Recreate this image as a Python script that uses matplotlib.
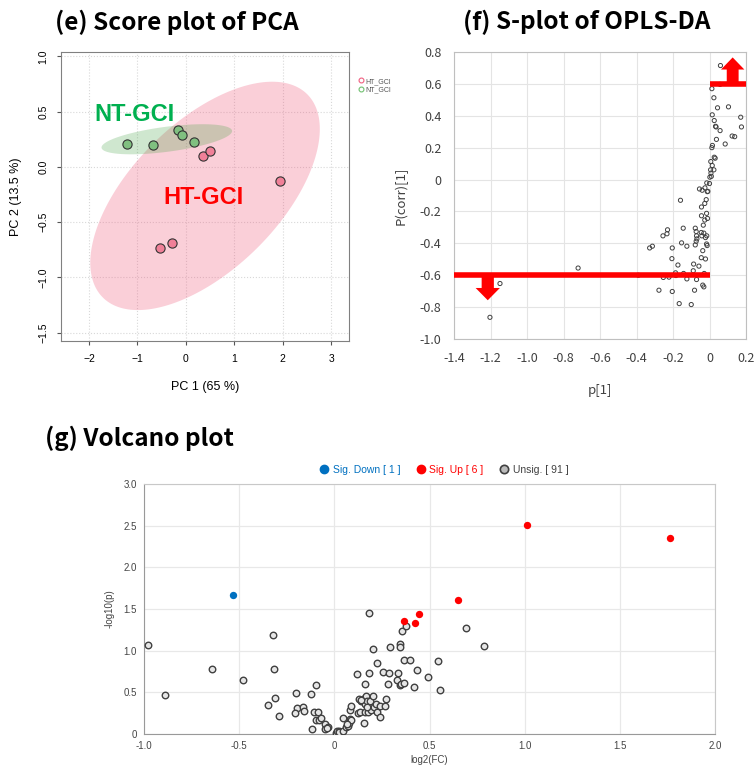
import numpy as np
import matplotlib
matplotlib.use("Agg")
import matplotlib.pyplot as plt
from matplotlib.ticker import FuncFormatter
from matplotlib.lines import Line2D

plt.rcParams['font.family'] = ['Liberation Sans', 'DejaVu Sans']
JP = ['Noto Sans CJK JP', 'DejaVu Sans']

# ---- (e) PCA scores ----
ht_pc1 = [0.36, 0.49, 1.95, -0.53, -0.29]
ht_pc2 = [0.096, 0.144, -0.13, -0.73, -0.69]
nt_pc1 = [-1.21, -0.68, -0.17, -0.08, 0.17]
nt_pc2 = [0.207, 0.20, 0.33, 0.285, 0.23]

# ---- (f) S-plot: p[1] and p(corr)[1] ----
s_p = [0.06, 0.058, 0.013, 0.024, 0.104, 0.044, 0.015, 0.171, 0.026, 0.033, 0.036, 0.058,
       0.175, 0.124, 0.138, 0.038, 0.086, 0.016, 0.013, 0.031, 0.026, 0.007, 0.015, 0.006,
       0.024, 0.008, 0.002, 0.01,
       -0.015, 0.0, -0.055, -0.04, -0.025, -0.009, -0.012, -0.159, -0.018, -0.026, -0.044,
       -0.016, -0.044, -0.011, -0.026, -0.034, -0.144, -0.078, -0.23, -0.233, -0.255, -0.073,
       -0.045, -0.031, -0.015, -0.071, -0.069, -0.042, -0.022, -0.073, -0.153, -0.313, -0.328,
       -0.124, -0.078, -0.016, -0.013, -0.204, -0.037, -0.206, -0.045, -0.022, -0.173, -0.087,
       -0.058, -0.39, -0.253, -0.222, -0.186, -0.184, -0.142, -0.089, -0.029, -0.124, -0.071,
       -0.037, -0.031, -0.277, -0.204, -0.082, -0.166, -0.1, -0.72, -1.148, -1.203]
s_corr = [0.715, 0.597, 0.57, 0.513, 0.456, 0.45, 0.406, 0.391, 0.37, 0.334, 0.33, 0.307,
          0.33, 0.273, 0.269, 0.252, 0.223, 0.214, 0.2, 0.134, 0.14, 0.113, 0.088, 0.061,
          0.061, 0.04, 0.015, 0.02,
          -0.021, -0.025, -0.059, -0.067, -0.052, -0.074, -0.076, -0.13, -0.126, -0.15, -0.172,
          -0.212, -0.227, -0.244, -0.254, -0.286, -0.305, -0.305, -0.315, -0.34, -0.353, -0.326,
          -0.332, -0.336, -0.353, -0.353, -0.372, -0.353, -0.364, -0.387, -0.397, -0.418, -0.429,
          -0.418, -0.41, -0.404, -0.414, -0.429, -0.446, -0.496, -0.49, -0.498, -0.536, -0.53,
          -0.543, -0.6, -0.614, -0.612, -0.585, -0.602, -0.589, -0.572, -0.589, -0.623, -0.627,
          -0.662, -0.673, -0.694, -0.702, -0.694, -0.778, -0.784, -0.555, -0.652, -0.864]
corr_cut = 0.6

# ---- (g) Volcano ----
unsig_fc = [-0.98, -0.888, -0.641, -0.48, -0.32, -0.319, -0.31, -0.35, -0.289, -0.201, -0.194,
            -0.206, -0.166, -0.158, -0.121, -0.095, -0.116, -0.105, -0.086, -0.095, -0.083,
            -0.068, -0.047, -0.051, -0.033, -0.04, 0.007, 0.016, 0.026, 0.023, 0.047, 0.047,
            0.059, 0.072, 0.075, 0.084, 0.088, 0.08, 0.089, 0.117, 0.122, 0.128, 0.142, 0.137,
            0.152, 0.154, 0.159, 0.161, 0.164, 0.17, 0.163, 0.177, 0.182, 0.184, 0.189, 0.193,
            0.201, 0.201, 0.206, 0.219, 0.224, 0.226, 0.242, 0.242, 0.254, 0.264, 0.273, 0.28,
            0.289, 0.294, 0.335, 0.331, 0.343, 0.343, 0.347, 0.35, 0.357, 0.368, 0.366, 0.374,
            0.397, 0.417, 0.436, 0.494, 0.546, 0.555, 0.693, 0.784, 0.14, 0.17, 0.066]
unsig_p = [1.07, 0.466, 0.783, 0.647, 1.193, 0.783, 0.437, 0.349, 0.221, 0.49, 0.317,
           0.249, 0.325, 0.273, 0.478, 0.594, 0.064, 0.269, 0.261, 0.165, 0.17,
           0.193, 0.12, 0.064, 0.081, 0.07, 0.016, 0.036, 0.036, 0.02, 0.036, 0.196,
           0.081, 0.096, 0.136, 0.293, 0.341, 0.18, 0.17, 0.719, 0.249, 0.422, 0.398, 0.261,
           0.425, 0.136, 0.365, 0.599, 0.454, 0.398, 0.265, 0.27, 0.727, 1.454, 0.394, 0.286,
           1.016, 0.454, 0.322, 0.361, 0.847, 0.269, 0.205, 0.334, 0.743, 0.334, 0.422, 0.599,
           0.727, 1.048, 0.727, 0.651, 1.084, 1.05, 0.587, 0.6, 1.237, 0.892, 0.614, 1.301,
           0.883, 0.566, 0.763, 0.687, 0.876, 0.534, 1.277, 1.057, 0.41, 0.33, 0.12]
up_fc = [0.368, 0.425, 0.445, 0.65, 1.012, 1.766]
up_p = [1.353, 1.333, 1.446, 1.606, 2.514, 2.349]
down_fc = [-0.532]
down_p = [1.666]


def conf_ellipse(x, y, n=200):
    x = np.asarray(x)
    y = np.asarray(y)
    L = np.linalg.cholesky(np.cov(x, y))
    t = np.linspace(0, 2 * np.pi, n)
    pts = L @ (np.vstack([np.cos(t), np.sin(t)]) * np.sqrt(5.991))
    return x.mean() + pts[0], y.mean() + pts[1]


W, H = 755, 770
fig = plt.figure(figsize=(W / 100, H / 100), dpi=100)

# ================= (e) PCA =================
ax1 = fig.add_axes([61 / W, 1 - 341 / H, 288 / W, 289 / H])
ex, ey = conf_ellipse(ht_pc1, ht_pc2)
ax1.fill(ex, ey, color='#F06080', alpha=0.3, lw=0)
ex, ey = conf_ellipse(nt_pc1, nt_pc2)
ax1.fill(ex, ey, color='#40A040', alpha=0.25, lw=0)
ax1.scatter(ht_pc1, ht_pc2, s=44, c='#F08098', edgecolors='#333333', lw=0.8, zorder=3)
ax1.scatter(nt_pc1, nt_pc2, s=44, c='#80C080', edgecolors='#333333', lw=0.8, zorder=3)
ax1.text(-1.07, 0.477, 'NT-GCI', color='#00B050', fontsize=17, weight='bold',
         ha='center', va='center')
ax1.text(0.355, -0.28, 'HT-GCI', color='#FF0000', fontsize=17, weight='bold',
         ha='center', va='center')
ax1.set_xlim(-2.58, 3.37)
ax1.set_ylim(-1.575, 1.04)
ax1.set_xticks(range(-2, 4))
ax1.set_yticks(np.arange(-1.5, 1.01, 0.5))
ax1.grid(color='#d8d8d8', linestyle=':', lw=0.8)
ax1.set_axisbelow(True)
for sp in ax1.spines.values():
    sp.set_color('#808080')
ax1.tick_params(length=3, width=0.8, color='#555555', labelsize=7.5, pad=6)
for lab in ax1.get_yticklabels():
    lab.set_rotation(90)
    lab.set_va('center')
ax1.set_xlabel('PC 1 (65 %)', fontsize=9)
ax1.set_ylabel('PC 2 (13.5 %)', fontsize=9)
ax1.xaxis.set_label_coords(0.5, -0.14)
ax1.yaxis.set_label_coords(-0.135, 0.5)
leg_h = [Line2D([], [], marker='o', ls='', mfc='none', mec='#F06080', ms=3.5, mew=0.8),
         Line2D([], [], marker='o', ls='', mfc='none', mec='#70C070', ms=3.5, mew=0.8)]
ax1.legend(leg_h, ['HT_GCI', 'NT_GCI'], loc='upper left', bbox_to_anchor=(1.02, 0.92),
           frameon=False, fontsize=5, handletextpad=0.2, labelspacing=0.15,
           borderaxespad=0, handlelength=1, labelcolor='#555555')

# ================= (f) S-plot =================
ax2 = fig.add_axes([454 / W, 1 - 339 / H, 292 / W, 287 / H])
ax2.scatter(s_p, s_corr, s=9, facecolors='none', edgecolors='#404040', lw=0.7, zorder=3)
ax2.plot([0, 0.2], [corr_cut, corr_cut], color='#FF0000', lw=4, solid_capstyle='butt', zorder=4)
ax2.plot([-1.4, 0], [-corr_cut, -corr_cut], color='#FF0000', lw=4, solid_capstyle='butt', zorder=4)
ax2.arrow(0.127, corr_cut, 0, 0.166, width=0.065, head_width=0.128, head_length=0.076,
          length_includes_head=True, color='#FF0000', lw=0, zorder=4)
ax2.arrow(-1.215, -corr_cut, 0, -0.157, width=0.067, head_width=0.133, head_length=0.077,
          length_includes_head=True, color='#FF0000', lw=0, zorder=4)
ax2.set_xlim(-1.4, 0.2)
ax2.set_ylim(-1.0, 0.8)
ax2.set_xticks(np.arange(-1.4, 0.21, 0.2))
ax2.set_yticks(np.arange(-1.0, 0.81, 0.2))
fmt = FuncFormatter(lambda v, p: '0' if abs(v) < 1e-9 else '%.1f' % v)
ax2.xaxis.set_major_formatter(fmt)
ax2.yaxis.set_major_formatter(fmt)
ax2.grid(color='#e4e4e4', lw=0.8)
ax2.set_axisbelow(True)
for sp in ax2.spines.values():
    sp.set_color('#bfbfbf')
ax2.tick_params(length=0, labelsize=9, pad=9, labelcolor='#404040')
for lab in ax2.get_xticklabels() + ax2.get_yticklabels():
    lab.set_family(JP)
ax2.set_xlabel('p[1]', fontsize=9.5, family=JP, color='#404040')
ax2.set_ylabel('P(corr)[1]', fontsize=9.5, family=JP, color='#404040')
ax2.xaxis.set_label_coords(0.5, -0.157)
ax2.yaxis.set_label_coords(-0.16, 0.5)

# ================= (g) Volcano =================
ax3 = fig.add_axes([144 / W, 1 - 734 / H, 571 / W, 250 / H])
ax3.scatter(unsig_fc, unsig_p, s=22, c='#e6e6e6', edgecolors='#404040', lw=1.0, zorder=3)
ax3.scatter(up_fc, up_p, s=28, c='#FF0000', lw=0, zorder=4)
ax3.scatter(down_fc, down_p, s=28, c='#0070C0', lw=0, zorder=4)
ax3.set_xlim(-1.0, 2.0)
ax3.set_ylim(0, 3.0)
ax3.set_xticks(np.arange(-1.0, 2.01, 0.5))
ax3.set_yticks(np.arange(0, 3.01, 0.5))
ax3.xaxis.set_major_formatter(fmt)
ax3.yaxis.set_major_formatter(fmt)
ax3.grid(color='#e8e8e8', lw=0.9)
ax3.set_axisbelow(True)
for sp in ax3.spines.values():
    sp.set_color('#c8c8c8')
ax3.spines['left'].set_color('#999999')
ax3.spines['bottom'].set_color('#999999')
ax3.tick_params(length=0, labelsize=7, pad=5, labelcolor='#444444')
ax3.set_xlabel('log2(FC)', fontsize=7, color='#444444')
ax3.set_ylabel('-log10(p)', fontsize=7, color='#444444')
ax3.xaxis.set_label_coords(0.5, -0.085)
ax3.yaxis.set_label_coords(-0.052, 0.5)
vh = [Line2D([], [], marker='o', ls='', mfc='#0070C0', mec='#0070C0', ms=6),
      Line2D([], [], marker='o', ls='', mfc='#FF0000', mec='#FF0000', ms=6),
      Line2D([], [], marker='o', ls='', mfc='#bbbbbb', mec='#404040', ms=6, mew=1.2)]
vl = ax3.legend(vh, ['Sig. Down [ 1 ]', 'Sig. Up [ 6 ]', 'Unsig. [ 91 ]'], loc='center',
                bbox_to_anchor=(0.525, 1.056), ncol=3, frameon=False, fontsize=7.5,
                handletextpad=0.3, columnspacing=1.5, handlelength=1, borderaxespad=0)
for t, c in zip(vl.get_texts(), ['#0070C0', '#FF0000', '#404040']):
    t.set_color(c)

# ================= titles =================
tkw = dict(fontsize=17.5, weight='bold', family=JP, va='center')
fig.text(55 / W, 1 - 22 / H, '(e) Score plot of PCA', **tkw)
fig.text(45 / W, 1 - 438 / H, '(g) Volcano plot', **tkw)

r = fig.canvas.get_renderer()
x0 = 463 / W
for piece, st in [('(f) ', 'normal'), ('S', 'italic'), ('-plot of OPLS-DA', 'normal')]:
    t = fig.text(x0, 1 - 22 / H, piece, style=st, **tkw)
    bb = t.get_window_extent(renderer=r)
    x0 += bb.width / (W)

fig.savefig('out.png', dpi=100)
